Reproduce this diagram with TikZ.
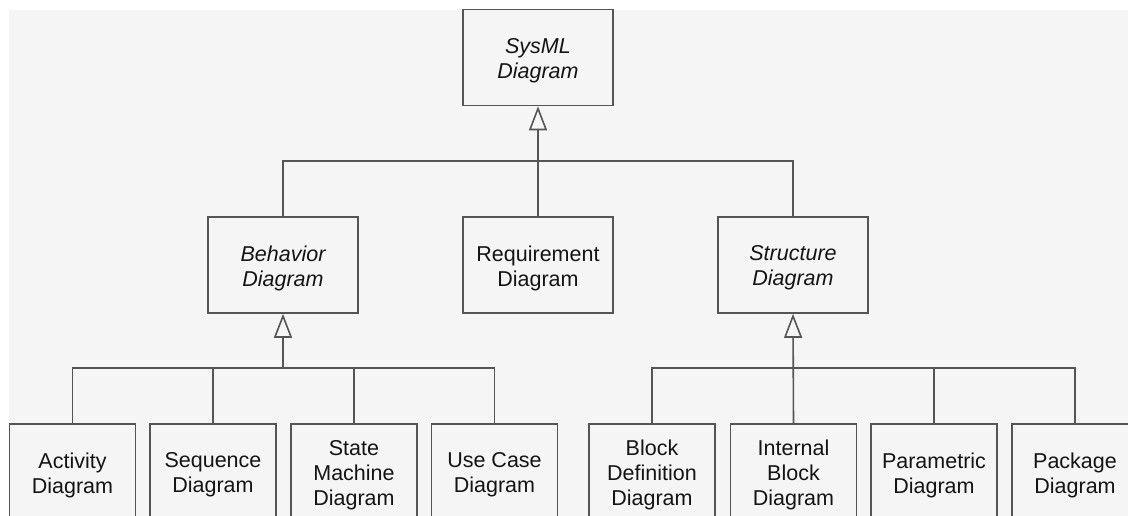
\documentclass[tikz,border=0pt]{standalone}
\usepackage{fontspec}
\setmainfont{Liberation Sans}
\usetikzlibrary{arrows.meta}
\definecolor{bgc}{RGB}{245,245,245}
\definecolor{linec}{RGB}{85,85,85}
\definecolor{txtc}{RGB}{20,20,20}
\tikzset{
  box/.style={draw=linec, line width=1.6pt, fill=bgc, inner sep=0pt, minimum height=96pt},
  topbox/.style={box, minimum width=150pt},
  botbox/.style={box, minimum width=126pt},
  lab/.style={text=txtc, align=center, inner sep=0pt, yshift=-3pt,
    font=\fontsize{21.5}{25}\selectfont},
  conn/.style={draw=linec, line width=1.6pt},
  gen/.style={conn, -{Triangle[open, length=24pt, width=18pt, line width=1.6pt]}},
}
\begin{document}
\begin{tikzpicture}[x=1pt, y=-1pt]
\useasboundingbox (0,0) rectangle (1128,516);
\clip (0,0) rectangle (1128,516);
\fill[white] (0,0) rectangle (1128,516);
\fill[bgc] (9,10) rectangle (1140,530);

\node[topbox, label={[lab]center:\itshape SysML\\\itshape Diagram}] (sys) at (538,57.5) {};
\node[topbox, label={[lab]center:\itshape Behavior\\\itshape Diagram}] (beh) at (283,265) {};
\node[topbox, label={[lab]center:Requirement\\Diagram}] (req) at (538,265) {};
\node[topbox, label={[lab]center:\itshape Structure\\\itshape Diagram}] (str) at (793,265) {};

\node[botbox, label={[lab]center:Activity\\Diagram}] (act) at (72.5,472) {};
\node[botbox, label={[lab]center:Sequence\\Diagram}] (seq) at (213,472) {};
\node[botbox, label={[lab]center:State\\Machine\\Diagram}] (stm) at (354,472) {};
\node[botbox, label={[lab]center:Use Case\\Diagram}] (uc)  at (494.5,472) {};
\node[botbox, label={[lab]center:Block\\Definition\\Diagram}] (bdd) at (652,472) {};
\node[botbox, label={[lab]center:Internal\\Block\\Diagram}] (ibd) at (793.5,472) {};
\node[botbox, label={[lab]center:Parametric\\Diagram}] (par) at (934,472) {};
\node[botbox, label={[lab]center:Package\\Diagram}] (pkg) at (1075,472) {};

\coordinate (j1) at (538,161);
\coordinate (j2) at (283,368);
\coordinate (j3) at (793.5,368);

\draw[conn] (beh.north) |- (j1) -| (str.north);
\draw[gen] (req.north) -- (sys.south);

\draw[conn] (act.north) |- (j2) -| (uc.north);
\draw[conn] (seq.north) -- (seq.north |- j2);
\draw[conn] (stm.north) -- (stm.north |- j2);
\draw[gen] (j2) -- (beh.south);

\draw[conn] (bdd.north) |- (j3) -| (pkg.north);
\draw[conn] (par.north) -- (par.north |- j3);
\draw[gen] (ibd.north) -- (str.south);
\end{tikzpicture}
\end{document}
